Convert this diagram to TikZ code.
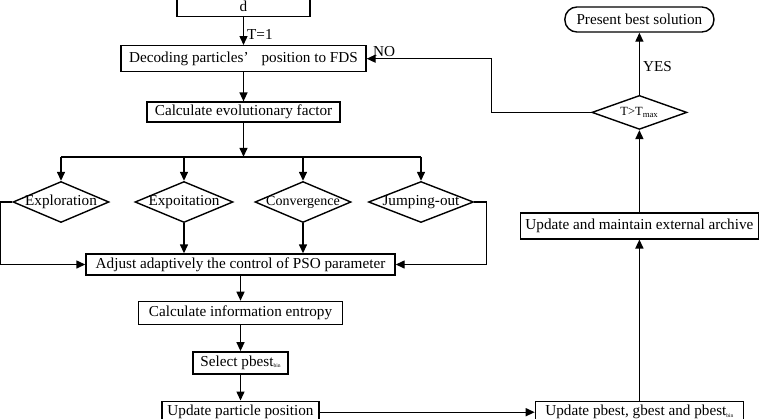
\documentclass[tikz,border=0pt]{standalone}
\usepackage{fontspec}
\setmainfont{Liberation Serif}
\usetikzlibrary{arrows.meta,positioning,shapes.geometric}
\newcommand{\binsub}[1]{\raisebox{-1.5pt}{\fontsize{5.5}{6}\selectfont #1}}

\begin{document}
\begin{tikzpicture}[
  x=1pt,y=-1pt,
  font=\fontsize{15.2}{18}\selectfont,
  box/.style={draw,line width=1.4pt,inner xsep=2pt,inner ysep=0pt,minimum height=22pt},
  decide/.style={draw,diamond,line width=1.4pt,inner sep=0pt,minimum width=96pt,minimum height=41pt},
  pill/.style={box,rounded corners=12pt},
  arr/.style={-{Triangle[length=9pt,width=8pt]},line width=1.4pt},
  lbl/.style={inner sep=1pt}]
\useasboundingbox (0,0) rectangle (765,418);
\node[box,anchor=south,minimum width=133pt,text height=30pt,text depth=3pt,inner ysep=2pt] (init) at (243.5,17) {d};
\node[box,below=28pt of init,minimum width=245pt,minimum height=26pt] (decode) {Decoding particles’\hspace{0.6em} position to FDS};
\node[box,below=29pt of decode,minimum width=193pt,minimum height=20pt] (evo) {Calculate evolutionary factor};
\coordinate[below=34pt of evo] (fork);
\node[decide] (explo) at (61,202) {\makebox[0pt]{Exploration}};
\node[decide,minimum width=98pt] (exploit) at (184,202) {\makebox[0pt]{Expoitation}};
\node[decide] (conv) at (303,202) {\makebox[0pt]{\fontsize{14}{16}\selectfont Convergence}};
\node[decide,minimum width=105pt] (jump) at (421,202) {\makebox[0pt]{Jumping-out}};
\node[box,minimum width=309pt,minimum height=21pt] (adjust) at (240.5,264.5) {Adjust adaptively the control of PSO parameter};
\node[box,below=25pt of adjust,minimum width=204pt,minimum height=23pt] (entropy) {Calculate information entropy};
\node[box,below=26pt of entropy,minimum width=95pt] (select) {Select pbest\binsub{bin}};
\node[box,below=26pt of select,minimum width=157pt,minimum height=22pt] (upos) {Update particle position};
\node[box,right=215pt of upos,minimum width=208pt,minimum height=22pt] (upbest) {Update pbest, gbest and pbest\binsub{bin}};
\node[box,above=161pt of upbest,minimum width=238pt,minimum height=26pt] (archive) {Update and maintain external archive};
\node[decide,above=82pt of archive,minimum width=95pt,minimum height=34pt] (tmax) {\makebox[0pt]{\fontsize{12.5}{14}\selectfont T>T\textsubscript{max}}};
\node[pill,above=62pt of tmax,minimum width=149pt,minimum height=25pt] (present) {Present best solution};
% left branch
\draw[arr] (init) -- node[lbl,pos=0.62,anchor=west,xshift=2pt] {T=1} (decode);
\draw[arr] (decode) -- (evo);
\draw[arr] (evo) -- (fork);
\draw[line width=1.4pt] (explo |- fork) -- (jump |- fork);
\foreach \d in {explo,exploit,conv,jump}
  \draw[arr] (\d |- fork) -- (\d);
\draw[arr] (explo.west) -- ++(-12,0) |- (adjust);
\draw[arr] (exploit) -- (exploit |- adjust.north);
\draw[arr] (conv) -- (conv |- adjust.north);
\draw[arr] (jump.east) -- ++(12,0) |- (adjust);
\draw[arr] (adjust) -- (entropy);
\draw[arr] (entropy) -- (select);
\draw[arr] (select) -- (upos);
% right branch
\draw[arr] (upos) -- (upbest);
\draw[arr] (upbest) -- (archive);
\draw[arr] (archive) -- (tmax);
\draw[arr] (tmax) -- node[lbl,right,pos=0.45,xshift=2pt] {YES} (present);
\draw[arr] (tmax.west) -- ++(-100,0) |- node[lbl,above,pos=0.93] {NO} (decode);
\end{tikzpicture}
\end{document}
